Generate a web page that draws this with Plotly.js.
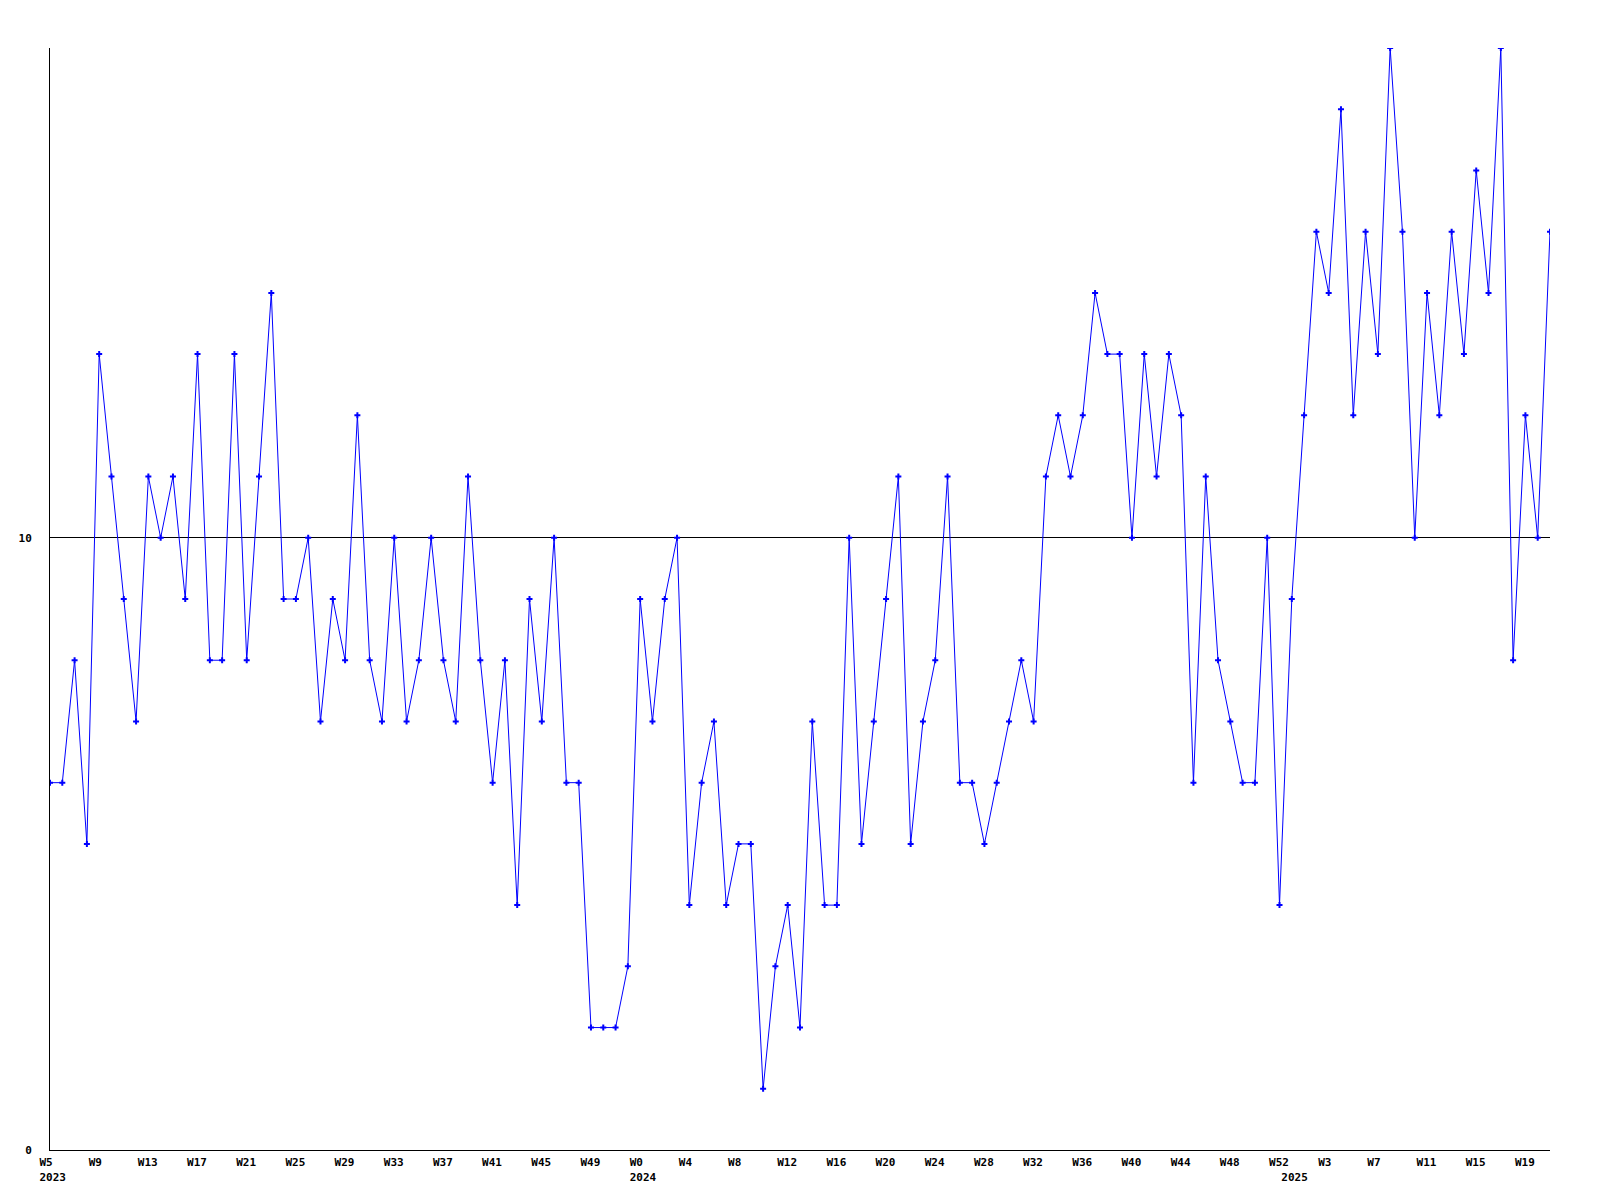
<!DOCTYPE html>
<html>
<head>
<meta charset="utf-8">
<script src="https://cdn.plot.ly/plotly-3.0.1.min.js"></script>
<style>
  html, body { margin: 0; padding: 0; background: #ffffff; }
  #chart { width: 1600px; height: 1200px; }
</style>
</head>
<body>
<div id="chart"></div>
<script>
// Week labels per year (one point per week)
const weeks2023 = ['W5','W6','W7','W8','W9','W10','W11','W12','W13','W14','W15','W16','W17','W18','W19','W20','W21','W22','W23','W24','W25','W26','W27','W28','W29','W30','W31','W32','W33','W34','W35','W36','W37','W38','W39','W40','W41','W42','W43','W44','W45','W46','W47','W48','W49','W50','W51','W52'];
const weeks2024 = ['W0','W1','W2','W3','W4','W5','W6','W7','W8','W9','W10','W11','W12','W13','W14','W15','W16','W17','W18','W19','W20','W21','W22','W23','W24','W25','W26','W27','W28','W29','W30','W31','W32','W33','W34','W35','W36','W37','W38','W39','W40','W41','W42','W43','W44','W45','W46','W47','W48','W49','W50','W51','W52'];
const weeks2025 = ['W0','W1','W2','W3','W4','W5','W6','W7','W8','W9','W10','W11','W12','W13','W14','W15','W16','W17','W18','W19','W20','W21'];
const yearNames = ['2023','2024','2025'];

// Weekly values
const values = [
  6,6,8,5,13,11,9,7,11,10,
  11,9,13,8,8,13,8,11,14,9,
  9,10,7,9,8,12,8,7,10,7,
  8,10,8,7,11,8,6,8,4,9,
  7,10,6,6,2,2,2,3,9,7,
  9,10,4,6,7,4,5,5,1,3,
  4,2,7,4,4,10,5,7,9,11,
  5,7,8,11,6,6,5,6,7,8,
  7,11,12,11,12,14,13,13,10,13,
  11,13,12,6,11,8,7,6,6,10,
  4,9,12,15,14,17,12,15,13,18,
  15,10,14,12,15,13,16,14,18,8,
  12,10,15
];

const yTickVals = [0, 10];
const yTickText = ['0', '10'];

// Build point list
const yearWeeks = [weeks2023, weeks2024, weeks2025];
const labels = [];
const yearStartIdx = [];
yearWeeks.forEach((arr, yi) => {
  yearStartIdx.push(labels.length);
  arr.forEach(w => labels.push(w));
});
const xs = values.map((v, i) => i);

// Tick labels every 4 weeks plus year labels at first week of each year
const tickvals = [];
const ticktext = [];
for (let i = 0; i < labels.length; i += 4) {
  tickvals.push(i);
  const yi = yearStartIdx.indexOf(i);
  ticktext.push(yi >= 0 ? labels[i] + '<br>' + yearNames[yi] : labels[i]);
}
yearStartIdx.forEach((idx, yi) => {
  if (idx % 4 !== 0) {
    tickvals.push(idx);
    ticktext.push('\u00a0<br>' + yearNames[yi]);
  }
});

const tickFont = { family: 'DejaVu Sans Mono, Liberation Mono, monospace', size: 11, color: '#000000', weight: 'bold' };

const trace = {
  x: xs,
  y: values,
  text: labels,
  type: 'scatter',
  mode: 'lines+markers',
  line: { color: '#0000ff', width: 1 },
  marker: { color: '#0000ff', symbol: 'cross', size: 5, line: { width: 0 } },
  hoverinfo: 'text+y'
};

const layout = {
  width: 1600,
  height: 1200,
  paper_bgcolor: '#ffffff',
  plot_bgcolor: '#ffffff',
  showlegend: false,
  margin: { l: 50, r: 50, t: 48, b: 50, pad: 0 },
  xaxis: {
    range: [0, labels.length - 1],
    tickmode: 'array',
    tickvals: tickvals,
    ticktext: ticktext,
    tickangle: 0,
    ticks: '',
    ticklabelposition: 'outside right',
    ticklabelshift: -11,
    ticklabelstandoff: 2,
    tickfont: tickFont,
    showgrid: false,
    zeroline: false,
    showline: true,
    linecolor: '#000000',
    linewidth: 1
  },
  yaxis: {
    range: [0, 18],
    tickmode: 'array',
    tickvals: yTickVals,
    ticktext: yTickText,
    ticks: '',
    ticklabelstandoff: 15,
    tickfont: tickFont,
    showgrid: true,
    gridcolor: '#000000',
    gridwidth: 1,
    zeroline: false,
    showline: true,
    linecolor: '#000000',
    linewidth: 1
  }
};

Plotly.newPlot('chart', [trace], layout, { displayModeBar: false, staticPlot: true });
</script>
</body>
</html>
